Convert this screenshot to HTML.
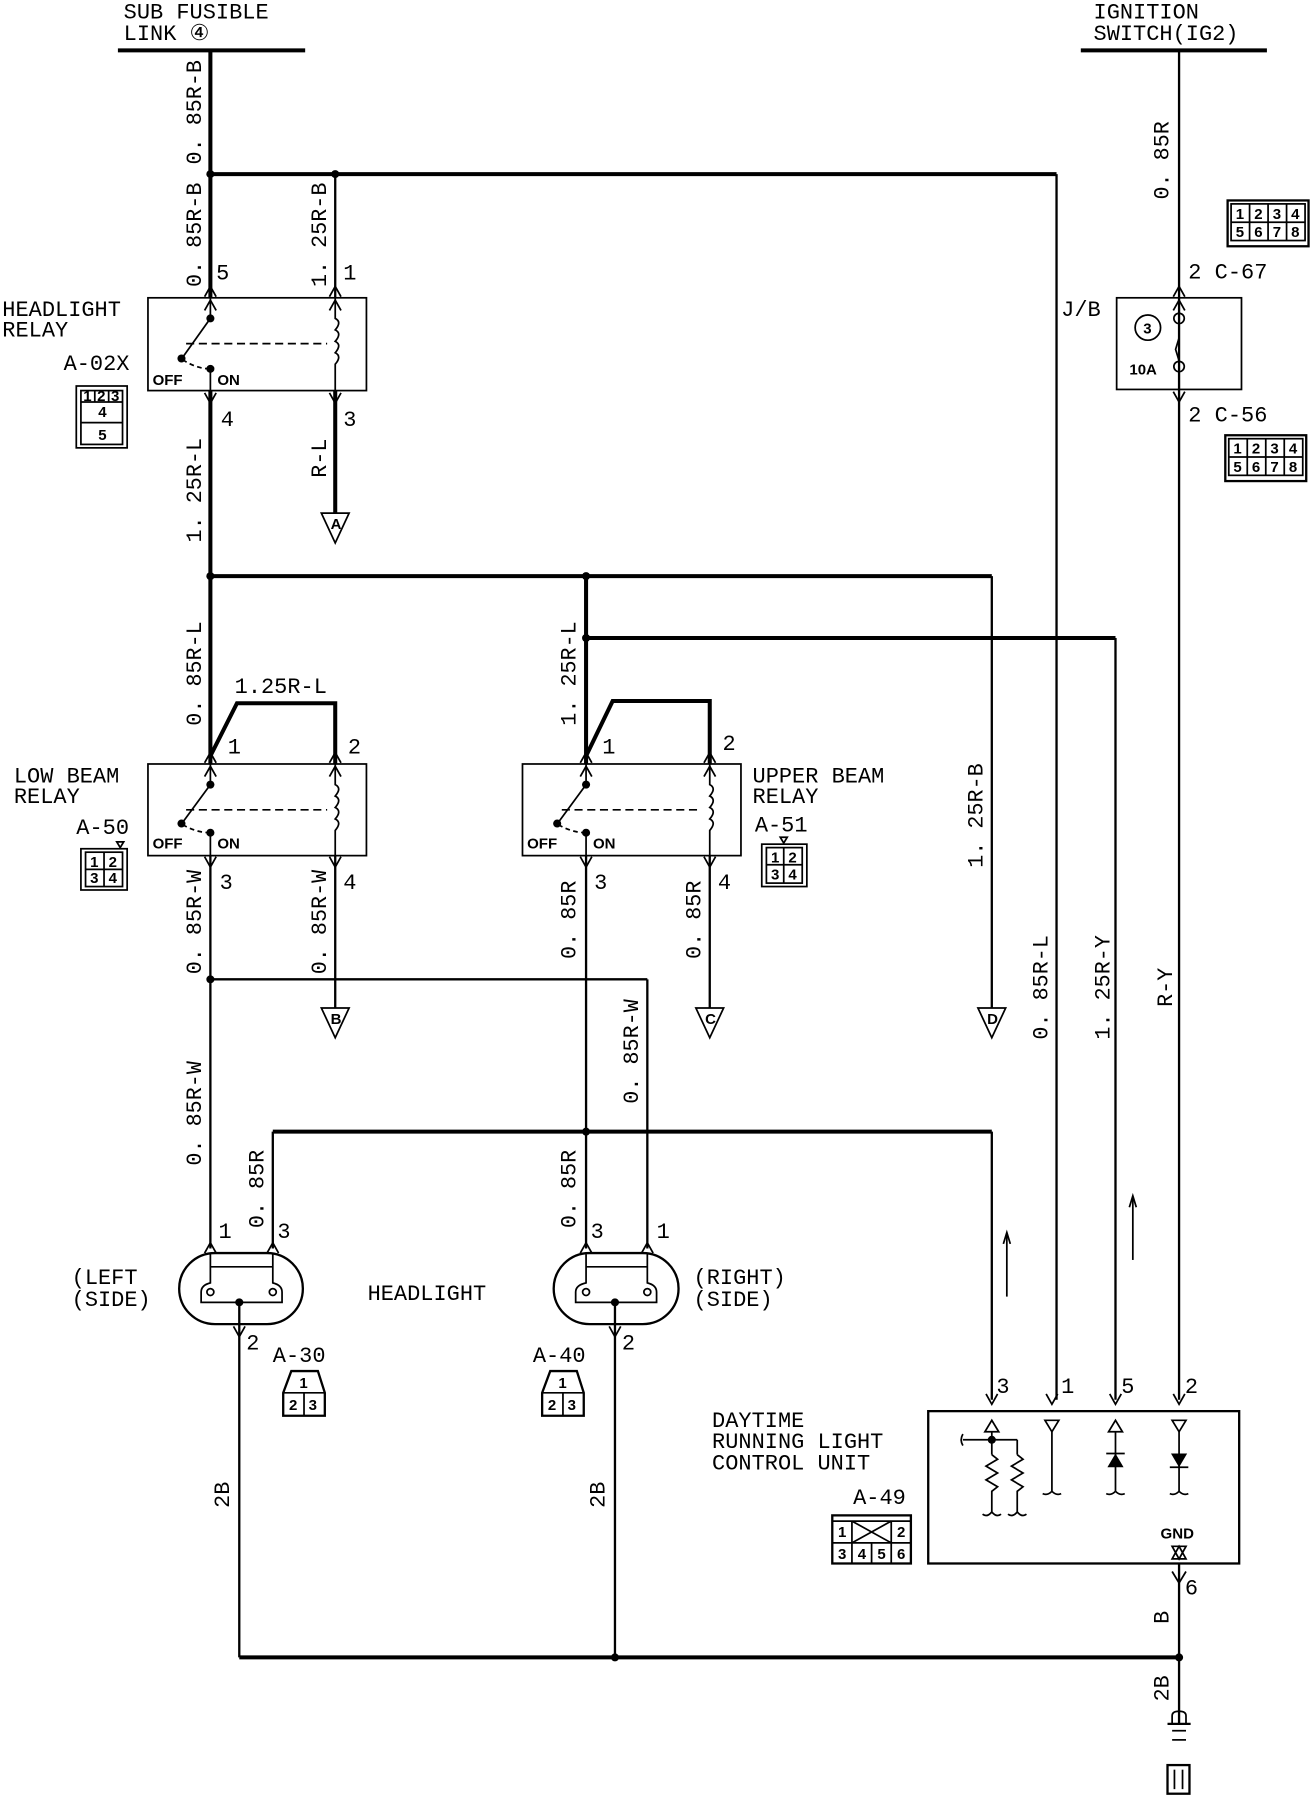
<!DOCTYPE html>
<html><head><meta charset="utf-8"><style>
html,body{margin:0;padding:0;background:#fff;}
svg{display:block;}
text{font-family:"Liberation Mono","DejaVu Sans Mono",monospace;fill:#000;}
.t{font-size:19px;}
.s{font-size:13px;font-family:"Liberation Sans",sans-serif;font-weight:bold;}
.w{stroke:#000;stroke-width:2;fill:none;}
.b{stroke:#000;stroke-width:3.5;fill:none;}
.th{stroke:#000;stroke-width:1.5;fill:none;}
</style></head><body>
<svg width="1312" height="1796" viewBox="0 0 1135 1568" preserveAspectRatio="none" xmlns="http://www.w3.org/2000/svg">
<defs>
<g id="up"><path d="M-5,9 L0,0 L5,9" class="th"/></g>
<g id="dn"><path d="M-5,-9 L0,0 L5,-9" class="th"/></g>
<g id="dot"><circle r="3.5" fill="#000"/></g>
</defs>

<!-- top left source -->
<text class="t" x="107" y="16" transform="scale(1,1)">SUB FUSIBLE</text>
<text class="t" x="107" y="35">LINK ④</text>
<line x1="102" y1="44" x2="264" y2="44" class="b" stroke-width="3"/>
<!-- ignition -->
<text class="t" x="946" y="16">IGNITION</text>
<text class="t" x="946" y="35">SWITCH(IG2)</text>
<line x1="935" y1="44" x2="1096" y2="44" class="b" stroke-width="3"/>

<!-- main wires -->
<line x1="182" y1="44" x2="182" y2="260" class="b"/>
<line x1="182" y1="152" x2="914" y2="152" class="b"/>
<line x1="914" y1="152" x2="914" y2="1222" class="w"/>
<line x1="290" y1="152" x2="290" y2="260" class="w"/>
<use href="#dot" x="182" y="152"/><use href="#dot" x="290" y="152"/>
<text class="t" transform="translate(174,98) rotate(-90)" text-anchor="middle">0. 85R-B</text>
<text class="t" transform="translate(174,205) rotate(-90)" text-anchor="middle">0. 85R-B</text>
<text class="t" transform="translate(282,205) rotate(-90)" text-anchor="middle">1. 25R-B</text>
<text class="t" x="187" y="244">5</text><text class="t" x="297" y="244">1</text>
<text class="t" x="918" y="276">J/B</text>

<!-- headlight relay -->
<rect x="128" y="260" width="189" height="81" class="th"/>
<use href="#up" x="182" y="250"/><use href="#up" x="182" y="262"/>
<use href="#up" x="290" y="250"/><use href="#up" x="290" y="262"/>
<line x1="182" y1="260" x2="182" y2="278" class="th"/>
<use href="#dot" x="182" y="278"/>
<line x1="182" y1="278" x2="158" y2="312" class="th"/>
<use href="#dot" x="157" y="313"/>
<path d="M158,314 Q170,322 182,322" class="th" stroke-dasharray="4,3"/>
<use href="#dot" x="182" y="322"/>
<line x1="182" y1="322" x2="182" y2="341" class="th"/>
<line x1="161" y1="300" x2="283" y2="300" class="th" stroke-dasharray="7,4"/>
<path d="M290,260 L290,278 q6,3 0,10 q6,3 0,10 q6,3 0,10 q6,3 0,10 L290,341" class="th"/>
<text class="s" x="132" y="336">OFF</text><text class="s" x="188" y="336">ON</text>
<text class="t" x="2" y="276">HEADLIGHT</text><text class="t" x="2" y="294">RELAY</text>
<text class="t" x="55" y="323">A-02X</text>
<rect x="66" y="337" width="44" height="54" class="th" stroke-width="2"/>
<rect x="70" y="341" width="36" height="47" class="th"/>
<line x1="70" y1="351" x2="106" y2="351" class="th"/>
<line x1="70" y1="369" x2="106" y2="369" class="th"/>
<line x1="82" y1="341" x2="82" y2="351" class="th"/><line x1="94" y1="341" x2="94" y2="351" class="th"/>
<text class="s" x="72" y="350" font-size="10">1</text><text class="s" x="84" y="350" font-size="10">2</text><text class="s" x="96" y="350" font-size="10">3</text>
<text class="s" x="85" y="364" font-size="11">4</text><text class="s" x="85" y="384" font-size="11">5</text>
<use href="#dn" x="182" y="352"/><use href="#dn" x="290" y="352"/>
<line x1="182" y1="341" x2="182" y2="667" class="b"/>
<line x1="290" y1="341" x2="290" y2="448" class="b" stroke-width="2.5"/>
<text class="t" x="191" y="372">4</text><text class="t" x="297" y="372">3</text>
<text class="t" transform="translate(174,428) rotate(-90)" text-anchor="middle">1. 25R-L</text>
<text class="t" transform="translate(282,400) rotate(-90)" text-anchor="middle">R-L</text>
<path d="M278,448 L302,448 L290,474 Z" class="th"/>
<text class="s" x="286" y="462" font-size="10">A</text>

<!-- middle bus -->
<line x1="182" y1="503" x2="858" y2="503" class="b"/>
<use href="#dot" x="182" y="503"/><use href="#dot" x="507" y="503"/>
<line x1="858" y1="503" x2="858" y2="880" class="w"/>
<line x1="507" y1="503" x2="507" y2="667" class="b"/>
<line x1="507" y1="557" x2="965" y2="557" class="b"/>
<use href="#dot" x="507" y="557"/>
<line x1="965" y1="557" x2="965" y2="1222" class="w"/>
<path d="M846,880 L870,880 L858,906 Z" class="th"/><text class="s" x="854" y="894" font-size="10">D</text>

<!-- low beam relay -->
<text class="t" transform="translate(174,588) rotate(-90)" text-anchor="middle">0. 85R-L</text>
<path d="M182,660 L205,614 L290,614 L290,667" class="b" stroke-width="3"/>
<text class="t" x="203" y="605">1.25R-L</text>
<text class="t" x="197" y="658">1</text><text class="t" x="301" y="658">2</text>
<rect x="128" y="667" width="189" height="80" class="th"/>
<use href="#up" x="182" y="657"/><use href="#up" x="182" y="669"/>
<use href="#up" x="290" y="657"/><use href="#up" x="290" y="669"/>
<line x1="182" y1="667" x2="182" y2="685" class="th"/><use href="#dot" x="182" y="685"/>
<line x1="182" y1="685" x2="158" y2="718" class="th"/><use href="#dot" x="157" y="719"/>
<path d="M158,720 Q170,727 182,727" class="th" stroke-dasharray="4,3"/><use href="#dot" x="182" y="727"/>
<line x1="182" y1="727" x2="182" y2="747" class="th"/>
<line x1="161" y1="707" x2="283" y2="707" class="th" stroke-dasharray="7,4"/>
<path d="M290,667 L290,685 q6,3 0,10 q6,3 0,10 q6,3 0,10 q6,3 0,10 L290,747" class="th"/>
<text class="s" x="132" y="741">OFF</text><text class="s" x="188" y="741">ON</text>
<text class="t" x="12" y="683">LOW BEAM</text><text class="t" x="12" y="701">RELAY</text>
<text class="t" x="66" y="728">A-50</text>
<path d="M101,735 L107,735 L104,740 Z" class="th"/>
<rect x="70" y="741" width="40" height="36" class="th" stroke-width="2"/>
<rect x="74" y="744" width="32" height="30" class="th"/>
<line x1="90" y1="744" x2="90" y2="774" class="th"/><line x1="74" y1="759" x2="106" y2="759" class="th"/>
<text class="s" x="78" y="757" font-size="10">1</text><text class="s" x="94" y="757" font-size="10">2</text>
<text class="s" x="78" y="771" font-size="10">3</text><text class="s" x="94" y="771" font-size="10">4</text>
<use href="#dn" x="182" y="757"/><use href="#dn" x="290" y="757"/>
<text class="t" x="190" y="776">3</text><text class="t" x="297" y="776">4</text>
<line x1="182" y1="747" x2="182" y2="1090" class="w" stroke-width="2.5"/>
<line x1="290" y1="747" x2="290" y2="880" class="w"/>
<text class="t" transform="translate(174,805) rotate(-90)" text-anchor="middle">0. 85R-W</text>
<text class="t" transform="translate(282,805) rotate(-90)" text-anchor="middle">0. 85R-W</text>
<line x1="182" y1="855" x2="560" y2="855" class="w"/>
<use href="#dot" x="182" y="855"/>
<line x1="560" y1="855" x2="560" y2="1090" class="w"/>
<text class="t" transform="translate(552,918) rotate(-90)" text-anchor="middle">0. 85R-W</text>
<path d="M278,880 L302,880 L290,906 Z" class="th"/><text class="s" x="286" y="894" font-size="10">B</text>
<text class="t" transform="translate(174,972) rotate(-90)" text-anchor="middle">0. 85R-W</text>

<!-- upper beam relay -->
<text class="t" transform="translate(498,588) rotate(-90)" text-anchor="middle">1. 25R-L</text>
<path d="M507,660 L530,612 L614,612 L614,667" class="b" stroke-width="3"/>
<text class="t" x="521" y="658">1</text><text class="t" x="625" y="655">2</text>
<rect x="452" y="667" width="189" height="80" class="th"/>
<use href="#up" x="507" y="657"/><use href="#up" x="507" y="669"/>
<use href="#up" x="614" y="657"/><use href="#up" x="614" y="669"/>
<line x1="507" y1="667" x2="507" y2="685" class="th"/><use href="#dot" x="507" y="685"/>
<line x1="507" y1="685" x2="483" y2="718" class="th"/><use href="#dot" x="482" y="719"/>
<path d="M483,720 Q495,727 507,727" class="th" stroke-dasharray="4,3"/><use href="#dot" x="507" y="727"/>
<line x1="507" y1="727" x2="507" y2="747" class="th"/>
<line x1="486" y1="707" x2="607" y2="707" class="th" stroke-dasharray="7,4"/>
<path d="M614,667 L614,685 q6,3 0,10 q6,3 0,10 q6,3 0,10 q6,3 0,10 L614,747" class="th"/>
<text class="s" x="456" y="741">OFF</text><text class="s" x="513" y="741">ON</text>
<text class="t" x="651" y="683">UPPER BEAM</text><text class="t" x="651" y="701">RELAY</text>
<text class="t" x="653" y="726">A-51</text>
<path d="M675,731 L681,731 L678,736 Z" class="th"/>
<rect x="659" y="737" width="39" height="37" class="th" stroke-width="2"/>
<rect x="663" y="740" width="31" height="31" class="th"/>
<line x1="678" y1="740" x2="678" y2="771" class="th"/><line x1="663" y1="755" x2="694" y2="755" class="th"/>
<text class="s" x="667" y="753" font-size="10">1</text><text class="s" x="682" y="753" font-size="10">2</text>
<text class="s" x="667" y="768" font-size="10">3</text><text class="s" x="682" y="768" font-size="10">4</text>
<use href="#dn" x="507" y="757"/><use href="#dn" x="614" y="757"/>
<text class="t" x="514" y="776">3</text><text class="t" x="621" y="776">4</text>
<line x1="507" y1="747" x2="507" y2="1090" class="w" stroke-width="2.5"/>
<line x1="614" y1="747" x2="614" y2="880" class="w"/>
<text class="t" transform="translate(498,803) rotate(-90)" text-anchor="middle">0. 85R</text>
<text class="t" transform="translate(606,803) rotate(-90)" text-anchor="middle">0. 85R</text>
<path d="M602,880 L626,880 L614,906 Z" class="th"/><text class="s" x="610" y="894" font-size="10">C</text>

<text class="t" transform="translate(850,712) rotate(-90)" text-anchor="middle">1. 25R-B</text>
<text class="t" transform="translate(906,862) rotate(-90)" text-anchor="middle">0. 85R-L</text>
<text class="t" transform="translate(960,862) rotate(-90)" text-anchor="middle">1. 25R-Y</text>
<text class="t" transform="translate(1014,862) rotate(-90)" text-anchor="middle">R-Y</text>

<!-- lower bus -->
<line x1="236" y1="988" x2="858" y2="988" class="b"/>
<use href="#dot" x="507" y="988"/>
<line x1="236" y1="988" x2="236" y2="1090" class="w"/>
<line x1="858" y1="988" x2="858" y2="1222" class="w"/>
<text class="t" transform="translate(228,1038) rotate(-90)" text-anchor="middle">0. 85R</text>
<text class="t" transform="translate(498,1038) rotate(-90)" text-anchor="middle">0. 85R</text>

<!-- headlights -->
<rect x="155" y="1094" width="107" height="62" rx="31" class="w"/>
<use href="#up" x="182" y="1085"/><use href="#up" x="236" y="1085"/>
<text class="t" x="189" y="1081">1</text><text class="t" x="240" y="1081">3</text>
<path d="M182,1095 L182,1120 Q174,1122 174,1128 L174,1137 L244,1137 L244,1128 Q244,1122 236,1120 L236,1095" class="th"/>
<line x1="182" y1="1106" x2="236" y2="1106" class="th"/>
<circle cx="182" cy="1128" r="3" class="th"/><circle cx="236" cy="1128" r="3" class="th"/>
<use href="#dot" x="207" y="1137"/>
<line x1="207" y1="1137" x2="207" y2="1447" class="w"/>
<use href="#dn" x="207" y="1167"/>
<text class="t" x="213" y="1178">2</text>

<rect x="479" y="1094" width="108" height="62" rx="31" class="w"/>
<use href="#up" x="507" y="1085"/><use href="#up" x="560" y="1085"/>
<text class="t" x="511" y="1081">3</text><text class="t" x="568" y="1081">1</text>
<path d="M507,1095 L507,1120 Q498,1122 498,1128 L498,1137 L568,1137 L568,1128 Q568,1122 560,1120 L560,1095" class="th"/>
<line x1="507" y1="1106" x2="560" y2="1106" class="th"/>
<circle cx="507" cy="1128" r="3" class="th"/><circle cx="560" cy="1128" r="3" class="th"/>
<use href="#dot" x="532" y="1137"/>
<line x1="532" y1="1137" x2="532" y2="1447" class="w"/>
<use href="#dn" x="532" y="1167"/>
<text class="t" x="538" y="1178">2</text>

<text class="t" x="62" y="1121">(LEFT</text><text class="t" x="62" y="1140">(SIDE)</text>
<text class="t" x="318" y="1135">HEADLIGHT</text>
<text class="t" x="600" y="1121">(RIGHT)</text><text class="t" x="600" y="1140">(SIDE)</text>
<text class="t" x="236" y="1189">A-30</text><text class="t" x="461" y="1189">A-40</text>
<g class="th">
<path d="M252,1197 L275,1197 L281,1216 L281,1236 L245,1236 L245,1216 Z" stroke-width="2"/>
<line x1="245" y1="1216" x2="281" y2="1216"/><line x1="263" y1="1216" x2="263" y2="1236"/>
<path d="M476,1197 L499,1197 L505,1216 L505,1236 L469,1236 L469,1216 Z" stroke-width="2"/>
<line x1="469" y1="1216" x2="505" y2="1216"/><line x1="487" y1="1216" x2="487" y2="1236"/>
</g>
<text class="s" x="259" y="1212" font-size="10">1</text><text class="s" x="250" y="1231" font-size="10">2</text><text class="s" x="267" y="1231" font-size="10">3</text>
<text class="s" x="483" y="1212" font-size="10">1</text><text class="s" x="474" y="1231" font-size="10">2</text><text class="s" x="491" y="1231" font-size="10">3</text>
<text class="t" transform="translate(198,1305) rotate(-90)" text-anchor="middle">2B</text>
<text class="t" transform="translate(523,1305) rotate(-90)" text-anchor="middle">2B</text>

<!-- bottom bus -->
<line x1="207" y1="1447" x2="1020" y2="1447" class="b" stroke-width="3"/>
<use href="#dot" x="532" y="1447"/><use href="#dot" x="1020" y="1447"/>
<line x1="1020" y1="1365" x2="1020" y2="1505" class="w"/>
<text class="t" transform="translate(1011,1412) rotate(-90)" text-anchor="middle">B</text>
<text class="t" transform="translate(1011,1474) rotate(-90)" text-anchor="middle">2B</text>
<path d="M1014,1505 L1014,1498 Q1014,1494 1020,1494 Q1026,1494 1026,1498 L1026,1505" class="th"/>
<line x1="1010" y1="1505" x2="1030" y2="1505" class="w"/>
<line x1="1014" y1="1511" x2="1026" y2="1511" class="th"/>
<line x1="1014" y1="1519" x2="1026" y2="1519" class="th"/>
<rect x="1010" y="1541" width="19" height="25" class="w" stroke-width="3"/>
<line x1="1016" y1="1545" x2="1016" y2="1562" class="th"/><line x1="1023" y1="1545" x2="1023" y2="1562" class="th"/>

<!-- right ignition side -->
<line x1="1020" y1="44" x2="1020" y2="1222" class="w"/>
<text class="t" transform="translate(1011,140) rotate(-90)" text-anchor="middle">0. 85R</text>
<g class="th">
<rect x="1062" y="175" width="70" height="40" stroke-width="2"/>
<rect x="1065" y="178" width="64" height="32"/>
<line x1="1065" y1="194" x2="1129" y2="194"/>
<line x1="1081" y1="178" x2="1081" y2="210"/><line x1="1097" y1="178" x2="1097" y2="210"/><line x1="1113" y1="178" x2="1113" y2="210"/>
<rect x="1060" y="380" width="70" height="40" stroke-width="2"/>
<rect x="1063" y="383" width="64" height="32"/>
<line x1="1063" y1="399" x2="1127" y2="399"/>
<line x1="1079" y1="383" x2="1079" y2="415"/><line x1="1095" y1="383" x2="1095" y2="415"/><line x1="1111" y1="383" x2="1111" y2="415"/>
</g>
<text class="s" x="1069" y="191" font-size="10">1</text><text class="s" x="1085" y="191" font-size="10">2</text><text class="s" x="1101" y="191" font-size="10">3</text><text class="s" x="1117" y="191" font-size="10">4</text>
<text class="s" x="1069" y="207" font-size="10">5</text><text class="s" x="1085" y="207" font-size="10">6</text><text class="s" x="1101" y="207" font-size="10">7</text><text class="s" x="1117" y="207" font-size="10">8</text>
<text class="s" x="1067" y="396" font-size="10">1</text><text class="s" x="1083" y="396" font-size="10">2</text><text class="s" x="1099" y="396" font-size="10">3</text><text class="s" x="1115" y="396" font-size="10">4</text>
<text class="s" x="1067" y="412" font-size="10">5</text><text class="s" x="1083" y="412" font-size="10">6</text><text class="s" x="1099" y="412" font-size="10">7</text><text class="s" x="1115" y="412" font-size="10">8</text>
<text class="t" x="1028" y="243">2  C-67</text>
<text class="t" x="1028" y="368">2  C-56</text>
<rect x="966" y="260" width="108" height="80" fill="#fff" class="th"/>
<use href="#up" x="1020" y="250"/><use href="#up" x="1020" y="262"/>
<line x1="1020" y1="260" x2="1020" y2="273" class="th"/>
<circle cx="1020" cy="278" r="4.5" fill="#fff" class="th"/>
<path d="M1020,283 L1020,295 L1017,305 L1020,315" class="th"/>
<circle cx="1020" cy="320" r="4.5" fill="#fff" class="th"/>
<line x1="1020" y1="325" x2="1020" y2="340" class="th"/>
<circle cx="993" cy="286" r="11" class="th" stroke-width="2"/>
<text class="s" x="989" y="291" font-size="12">3</text>
<text class="s" x="977" y="327" font-size="12">10A</text>
<use href="#dn" x="1020" y="351"/>

<!-- flow arrows -->
<line x1="871" y1="1078" x2="871" y2="1132" class="th"/><path d="M868,1086 L871,1076 L874,1086" class="th"/>
<line x1="980" y1="1046" x2="980" y2="1100" class="th"/><path d="M977,1054 L980,1044 L983,1054" class="th"/>

<!-- DRL unit -->
<rect x="803" y="1232" width="269" height="133" class="w"/>
<use href="#dn" x="858" y="1226"/><use href="#dn" x="910" y="1226"/><use href="#dn" x="965" y="1226"/><use href="#dn" x="1020" y="1226"/>
<text class="t" x="862" y="1216">3</text><text class="t" x="918" y="1216">1</text><text class="t" x="970" y="1216">5</text><text class="t" x="1025" y="1216">2</text>
<g class="th">
<path d="M852,1250 L858,1240 L864,1250 Z"/>
<line x1="858" y1="1250" x2="858" y2="1270"/>
<line x1="833" y1="1257" x2="880" y2="1257"/><line x1="880" y1="1257" x2="880" y2="1270"/>
<path d="M833,1252 q-3,5 0,10"/>
<path d="M858,1270 l5,4 l-10,6 l10,6 l-10,6 l10,6 l-5,4 L858,1320 q-4,5 -8,2 M858,1320 q4,5 8,2"/>
<path d="M880,1270 l5,4 l-10,6 l10,6 l-10,6 l10,6 l-5,4 L880,1320 q-4,5 -8,2 M880,1320 q4,5 8,2"/>
<path d="M904,1240 L916,1240 L910,1250 Z"/>
<line x1="910" y1="1250" x2="910" y2="1302"/><path d="M910,1302 q-4,4 -8,2 M910,1302 q4,4 8,2"/>
<path d="M959,1250 L965,1240 L971,1250 Z"/>
<line x1="965" y1="1250" x2="965" y2="1302"/><path d="M965,1302 q-4,4 -8,2 M965,1302 q4,4 8,2"/>
<line x1="957" y1="1269" x2="973" y2="1269"/>
<path d="M1014,1240 L1026,1240 L1020,1250 Z"/>
<line x1="1020" y1="1250" x2="1020" y2="1302"/><path d="M1020,1302 q-4,4 -8,2 M1020,1302 q4,4 8,2"/>
<line x1="1012" y1="1281" x2="1028" y2="1281"/>
<path d="M1014,1361 L1026,1361 L1020,1350 Z" transform="translate(0,-0)"/>
</g>
<use href="#dot" x="858" y="1257"/>
<path d="M958,1281 L965,1269 L972,1281 Z" fill="#000"/>
<path d="M1013,1269 L1027,1269 L1020,1281 Z" fill="#000"/>
<text class="s" x="1004" y="1343" font-size="12">GND</text>
<path d="M1014,1350 L1026,1350 L1020,1361 Z" class="th" fill="#fff"/>
<path d="M1014,1372 L1020,1382 L1026,1372" class="th"/>
<text class="t" x="1025" y="1392">6</text>
<text class="t" x="616" y="1246">DAYTIME</text>
<text class="t" x="616" y="1264">RUNNING LIGHT</text>
<text class="t" x="616" y="1283">CONTROL UNIT</text>
<text class="t" x="738" y="1313">A-49</text>
<g class="th">
<rect x="720" y="1323" width="68" height="42" stroke-width="2"/>
<line x1="720" y1="1328" x2="788" y2="1328"/>
<line x1="720" y1="1347" x2="788" y2="1347"/>
<line x1="737" y1="1328" x2="737" y2="1365"/><line x1="771" y1="1328" x2="771" y2="1365"/>
<line x1="754" y1="1347" x2="754" y2="1365"/>
<line x1="737" y1="1328" x2="771" y2="1347"/><line x1="771" y1="1328" x2="737" y2="1347"/>
</g>
<text class="s" x="725" y="1342" font-size="10">1</text><text class="s" x="776" y="1342" font-size="10">2</text>
<text class="s" x="725" y="1361" font-size="10">3</text><text class="s" x="742" y="1361" font-size="10">4</text><text class="s" x="759" y="1361" font-size="10">5</text><text class="s" x="776" y="1361" font-size="10">6</text>
</svg>
</body></html>
